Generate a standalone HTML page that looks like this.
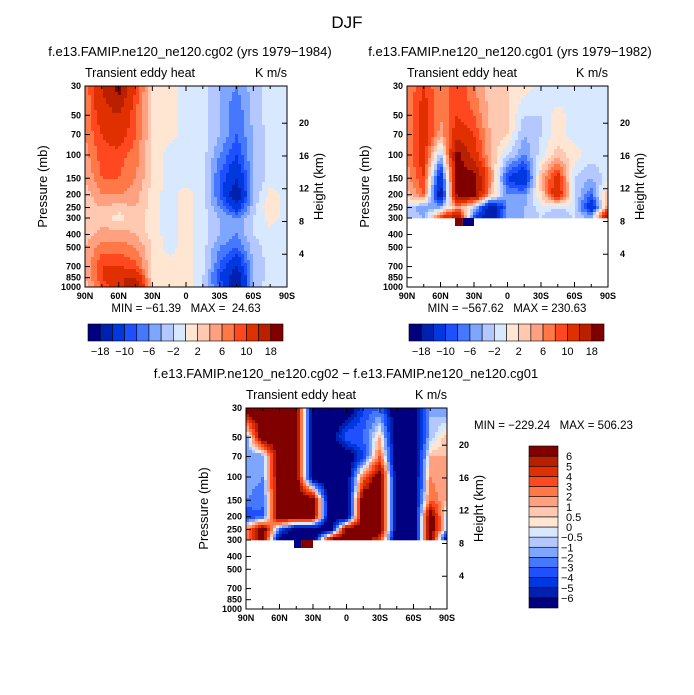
<!DOCTYPE html>
<html><head><meta charset="utf-8"><style>
body{margin:0;background:#fff;}
svg{display:block;font-family:"Liberation Sans",sans-serif;}
text{white-space:pre;}
</style></head><body>
<svg id="s" width="694" height="695" viewBox="0 0 694 695" xmlns="http://www.w3.org/2000/svg">
<text x="347" y="28" font-size="17" text-anchor="middle">DJF</text>
</svg>
<script>
const lats=[90,75,60,45,30,15,0,-15,-30,-45,-60,-75,-90];
const levels=[30,50,70,100,150,200,250,300,400,500,700,850,1000];
const pTicks=[30,50,70,100,150,200,250,300,400,500,700,850,1000];
const latTicks=[90,60,30,0,-30,-60,-90];
const latTickLabels=["90N","60N","30N","0","30S","60S","90S"];
const hTicks=[4,8,12,16,20];
const colors=["#000080","#0020b0","#0038e0","#1e50ff","#4678ff","#7ea6ff","#b4c8ff","#d8e8ff","#ffe6d2","#ffc8b0","#ffa080","#ff7848","#ff4820","#e03000","#b82000","#800000"];
const bounds12=[-18,-14,-10,-8,-6,-4,-2,0,2,4,6,8,10,14,18];
const bounds12Labels=["-18","","-10","","-6","","-2","","2","","6","","10","","18"];
const bounds3=[-6,-5,-4,-3,-2,-1,-0.5,0,0.5,1,2,3,4,5,6];
const bounds3Labels=["-6","-5","-4","-3","-2","-1","-0.5","0","0.5","1","2","3","4","5","6"];
const N=NaN;
const panel1=[
[6,14,20,10,2,1,-1,-1,-4,-6,-3,-1,-1],
[6,12,14,8,2,1,-1,-1,-4,-8,-3,-1,-1],
[6,10,12,8,2,1,-1,-1,-4,-8,-4,-1,-1],
[5,9,9,7,2,-1,-1,-1,-6,-10,-4,-1,-1],
[4,8,8,6,2,-1,-1,-1,-8,-14,-4,-1,-1],
[3,6,6,5,1,-1,1,-1,-8,-18,-4,1,-1],
[2,4,3,4,1,-1,1,-1,-6,-12,-3,2,-1],
[2,3,1,3,1,-1,1,-1,-4,-6,-2,1,-1],
[3,5,5,4,1,-1,1,-1,-4,-6,-2,-1,-1],
[4,7,7,6,2,-1,1,-1,-6,-8,-3,-1,-1],
[4,10,10,9,2,1,1,-1,-8,-14,-4,-1,-1],
[4,10,14,14,2,1,1,-2,-10,-18,-4,-1,-1],
[3,8,12,18,2,1,1,-2,-8,-18,-3,-1,-1]];
const panel2=[
[6,10,6,10,6,3,2,1,-1,-2,-1,-1,-1],
[6,12,6,10,8,3,2,-2,-2,1,-1,-1,-1],
[6,12,5,12,10,4,2,-4,-2,1,-1,-1,-1],
[6,12,-4,20,12,4,-2,-6,-1,3,1,-1,-1],
[5,10,-14,20,20,6,-10,-14,4,12,-2,-4,-1],
[3,8,-18,20,20,4,-6,-6,2,14,-2,-8,4],
[-2,-6,-4,6,-2,-18,-6,-4,-1,-2,-1,-14,6],
[-2,-4,10,20,-10,-18,-4,-4,-2,-4,-2,-4,20],
[N,N,N,N,N,N,N,N,N,N,N,N,N],[N,N,N,N,N,N,N,N,N,N,N,N,N],[N,N,N,N,N,N,N,N,N,N,N,N,N],[N,N,N,N,N,N,N,N,N,N,N,N,N],[N,N,N,N,N,N,N,N,N,N,N,N,N]];
const panel3=[
[8,8,8,8,-8,-8,-8,-4,-3,-8,-8,-1,-2],
[-2,8,8,8,-8,-8,-3,-3,1,-8,-8,-1,1],
[-2,-2,8,8,-8,-8,-8,-4,3,-8,-8,1,1],
[-1,-2,8,8,-8,-8,-8,3,8,-8,-8,2,1],
[-2,-3,8,8,8,-8,-8,8,8,-8,-8,3,1],
[-4,-3,8,8,8,-8,-8,8,8,-8,-8,8,-1],
[2,8,-3,-8,-8,-8,8,8,8,-8,-8,8,-1],
[2,8,-8,-8,-8,8,8,8,4,-8,-8,8,-8],
[N,N,N,N,N,N,N,N,N,N,N,N,N],[N,N,N,N,N,N,N,N,N,N,N,N,N],[N,N,N,N,N,N,N,N,N,N,N,N,N],[N,N,N,N,N,N,N,N,N,N,N,N,N],[N,N,N,N,N,N,N,N,N,N,N,N,N]];
const patches2=[[47,40,300,345,20],[40,30,300,345,-20]];
const patches3=[[47,40,300,345,-8],[40,30,300,345,8]];

const NS="http://www.w3.org/2000/svg";
const svg=document.getElementById('s');
function el(tag,attrs,parent){const e=document.createElementNS(NS,tag);for(const k in attrs)e.setAttribute(k,attrs[k]);(parent||svg).appendChild(e);return e;}
function colorFor(v,b){let i=0;while(i<b.length&&v>=b[i])i++;return colors[i];}

function drawPanel(o){
  const g=el('g',{});
  
  
  const x0=o.x0,x1=o.x1,y0=o.y0,y1=o.y1;
  const xs=lat=>x0+(90-lat)/180*(x1-x0);
  const ys=p=>y0+Math.log(p/30)/Math.log(1000/30)*(y1-y0);
  const yl=lv=>Math.log(lv/30);
  const step=3;
  for(let py=y0;py<y1;py+=step){
    const yc=py+step/2;
    const t=(yc-y0)/(y1-y0)*Math.log(1000/30);
    let r=0;while(r<levels.length-2&&yl(levels[r+1])<t)r++;
    const fr=Math.min(1,Math.max(0,(t-yl(levels[r]))/(yl(levels[r+1])-yl(levels[r]))));
    for(let px=x0;px<x1;px+=step){
      const xc=px+step/2;
      const lat=90-(xc-x0)/(x1-x0)*180;
      let c=0;while(c<lats.length-2&&lats[c+1]>lat)c++;
      const fc=(lats[c]-lat)/(lats[c]-lats[c+1]);
      const d=o.data;
      const a=d[r][c],b=d[r][c+1],e=d[r+1][c],f=d[r+1][c+1];
      let v;
      if(isNaN(e)||isNaN(f)){ if(isNaN(a))continue; if(t>yl(levels[r])+1e-9 && isNaN(e)) continue; v=a*(1-fc)+b*fc; }
      else v=(a*(1-fc)+b*fc)*(1-fr)+(e*(1-fc)+f*fc)*fr;
      const w=Math.min(step,x1-px),h=Math.min(step,y1-py);
      const rc=el('rect',{x:px,y:py,width:w+0.3,height:h+0.3,fill:colorFor(v,o.bounds)},g);
      
      
    }
  }
  (o.patches||[]).forEach(pt=>{
    const rc=el('rect',{x:xs(pt[0]),y:ys(pt[2]),width:xs(pt[1])-xs(pt[0]),height:ys(pt[3])-ys(pt[2]),fill:colorFor(pt[4],o.bounds)},g);
    
    
  });
  const fr=el('rect',{x:x0,y:y0,width:x1-x0,height:y1-y0,fill:'none',stroke:'#000','stroke-width':1},g);
  
  
  for(let lat=90;lat>=-90;lat-=15){
    const x=xs(lat),len=(lat%30===0)?5:3;
    el('line',{x1:x,y1:y1,x2:x,y2:y1-len,stroke:'#000'},g);
    el('line',{x1:x,y1:y0,x2:x,y2:y0+len,stroke:'#000'},g);
  }
  latTicks.forEach((lat,i)=>{
    const t=el('text',{x:xs(lat),y:y1+12,'font-size':9,'font-weight':'bold','text-anchor':'middle'},g);
    t.textContent=latTickLabels[i];
    
    
  });
  pTicks.forEach(p=>{
    const y=ys(p);
    el('line',{x1:x0,y1:y,x2:x0+5,y2:y,stroke:'#000'},g);
    const t=el('text',{x:x0-4,y:y+3,'font-size':9,'font-weight':'bold','text-anchor':'end'},g);
    t.textContent=p;
    
    
  });
  hTicks.forEach(h=>{
    const p=1000*Math.exp(-h/7);const y=ys(p);
    el('line',{x1:x1,y1:y,x2:x1-5,y2:y,stroke:'#000'},g);
    const t=el('text',{x:x1+12,y:y+3,'font-size':9,'font-weight':'bold'},g);
    t.textContent=h;
    
    
  });
  let t=el('text',{x:x0-38,y:(y0+y1)/2,'font-size':13,'text-anchor':'middle',transform:`rotate(-90 ${x0-38} ${(y0+y1)/2})`},g);
  t.textContent='Pressure (mb)';
  t=el('text',{x:x1+36,y:(y0+y1)/2,'font-size':13,'text-anchor':'middle',transform:`rotate(-90 ${x1+36} ${(y0+y1)/2})`},g);
  t.textContent='Height (km)';
  t=el('text',{x:x0,y:y0-9,'font-size':12.5},g);
  t.textContent='Transient eddy heat';
  t=el('text',{x:x1,y:y0-9,'font-size':12.5,'text-anchor':'end'},g);
  t.textContent='K m/s';
  t=el('text',{x:o.titleX,y:y0-30,'font-size':13,'text-anchor':'middle'},g);
  t.textContent=o.title;
  t=el('text',{x:o.mmX,y:o.mmY,'font-size':11.5,'text-anchor':o.mmAnchor},g);
  t.textContent=o.minmax;
}
function hbar(x0,x1,y0,y1,name){
  const g=el('g',{});
  const w=(x1-x0)/colors.length;
  colors.forEach((c,i)=>{const r=el('rect',{x:x0+i*w,y:y0,width:w,height:y1-y0,fill:c,stroke:'#000','stroke-width':0.6},g);
    });
  bounds12Labels.forEach((l,i)=>{if(!l)return;const t=el('text',{x:x0+(i+1)*w,y:y1+14,'font-size':11,'text-anchor':'middle'},g);
    t.textContent=l.replace('-','\u2212');});
}
function vbar(x0,x1,y0,y1,name){
  const g=el('g',{});
  const h=(y1-y0)/colors.length;
  colors.forEach((c,i)=>{const r=el('rect',{x:x0,y:y1-(i+1)*h,width:x1-x0,height:h,fill:c,stroke:'#000','stroke-width':0.6},g);
    });
  bounds3Labels.forEach((l,i)=>{const t=el('text',{x:x1+(l[0]==='-'?3:8),y:y1-(i+1)*h+4,'font-size':11},g);
    t.textContent=l.replace('-','\u2212');});
}
drawPanel({name:'panel-cg02',x0:85,x1:287,y0:86,y1:287,data:panel1,bounds:bounds12,title:'f.e13.FAMIP.ne120_ne120.cg02 (yrs 1979\u22121984)',titleX:190,minmax:'MIN = \u221261.39   MAX =  24.63',mmX:186,mmY:312,mmAnchor:'middle'});
drawPanel({name:'panel-cg01',x0:407,x1:608,y0:86,y1:287,data:panel2,bounds:bounds12,patches:patches2,title:'f.e13.FAMIP.ne120_ne120.cg01 (yrs 1979\u22121982)',titleX:510,minmax:'MIN = \u2212567.62   MAX = 230.63',mmX:507,mmY:312,mmAnchor:'middle'});
drawPanel({name:'panel-difference',x0:246,x1:447,y0:408,y1:609,data:panel3,bounds:bounds3,patches:patches3,title:'f.e13.FAMIP.ne120_ne120.cg02 \u2212 f.e13.FAMIP.ne120_ne120.cg01',titleX:346,minmax:'MIN = \u2212229.24   MAX = 506.23',mmX:474,mmY:429,mmAnchor:'start'});
hbar(88,283,324,341,'colorbar-1');
hbar(409,604,324,341,'colorbar-2');
vbar(529,558,446,608,'colorbar-3');
</script>
</body></html>
